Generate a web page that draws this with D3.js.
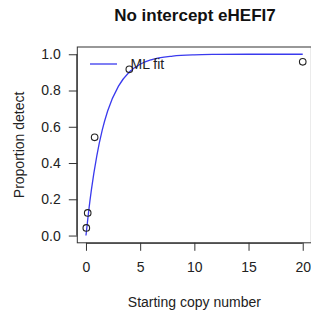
<!DOCTYPE html>
<html>
<head>
<meta charset="utf-8">
<script src="https://cdn.jsdelivr.net/npm/d3@7"></script>
<style>
  body { margin: 0; background: #fff; }
  text { font-family: "Liberation Sans", Arial, sans-serif; }
</style>
</head>
<body>
<div id="chart"></div>
<script>
// Observed proportions by starting copy number
var copyNumber = [0.032, 0.16, 0.8, 4, 20];
var propDetect = [0.042, 0.125, 0.542, 0.917, 0.958];

// ML fit curve
var fitX = [0, 0.25, 0.5, 1, 1.5, 2, 3, 4, 5, 6, 8, 10, 12, 15, 20];
var fitY = [0, 0.135, 0.252, 0.44, 0.581, 0.687, 0.824, 0.902, 0.945, 0.969, 0.99, 0.997, 0.999, 1.0, 1.0];

var xTicks = [0, 5, 10, 15, 20];
var yTicks = [0, 0.2, 0.4, 0.6, 0.8, 1.0];

var width = 311, height = 316;
var margin = { top: 47, right: -0.4, bottom: 73.2, left: 77.3 };

var svg = d3.select("#chart")
    .append("svg")
    .attr("width", width)
    .attr("height", height);

// R style 4% padding on each side
var x = d3.scaleLinear()
    .domain([-0.8, 20.8])
    .range([margin.left, width - margin.right]);
var y = d3.scaleLinear()
    .domain([-0.04, 1.04])
    .range([height - margin.bottom, margin.top]);

// Plot box
svg.append("rect")
    .attr("x", margin.left)
    .attr("y", margin.top)
    .attr("width", width - margin.right - margin.left)
    .attr("height", height - margin.bottom - margin.top)
    .attr("fill", "none")
    .attr("stroke", "#333")
    .attr("stroke-width", 1);

// Y axis
var yAxis = svg.append("g")
    .attr("transform", "translate(" + margin.left + ",0)")
    .call(d3.axisLeft(y).tickValues(yTicks).tickFormat(d3.format(".1f")).tickSizeOuter(0).tickSize(8.5).tickPadding(8));
yAxis.select(".domain")
    .attr("d", "M-0.5," + y(0) + "V" + y(1));
yAxis.selectAll("line").attr("stroke", "#333");
yAxis.selectAll("text")
    .style("font-size", "14px")
    .attr("fill", "#222");
yAxis.select(".domain").attr("stroke", "#333");

// X axis
var xAxis = svg.append("g")
    .attr("transform", "translate(0," + (height - margin.bottom) + ")")
    .call(d3.axisBottom(x).tickValues(xTicks).tickSizeOuter(0).tickSize(8).tickPadding(11));
xAxis.select(".domain")
    .attr("d", "M" + x(0) + ",0.5H" + x(20));
xAxis.selectAll("line").attr("stroke", "#333");
xAxis.select(".domain").attr("stroke", "#333");
xAxis.selectAll("text")
    .style("font-size", "14px")
    .attr("fill", "#222");

// Fit line
var fit = fitX.map(function (d, i) { return { x: d, y: fitY[i] }; });
svg.append("path")
    .datum(fit)
    .attr("fill", "none")
    .attr("stroke", "#3a3aee")
    .attr("stroke-width", 1.3)
    .attr("d", d3.line()
      .curve(d3.curveMonotoneX)
      .x(function (d) { return x(d.x); })
      .y(function (d) { return y(d.y); })
    );

// Points
svg.selectAll(".pt")
    .data(copyNumber)
    .enter()
    .append("circle")
    .attr("cx", function (d) { return x(d); })
    .attr("cy", function (d, i) { return y(propDetect[i]); })
    .attr("r", 3.3)
    .attr("fill", "none")
    .attr("stroke", "#222")
    .attr("stroke-width", 1.1);

// Legend
svg.append("line")
    .attr("x1", 90).attr("x2", 117)
    .attr("y1", 64).attr("y2", 64)
    .attr("stroke", "#3a3aee")
    .attr("stroke-width", 1.3);
svg.append("text")
    .attr("x", 130.5)
    .attr("y", 69)
    .style("font-size", "14px")
    .attr("fill", "#222")
    .text("ML fit");

// Title
svg.append("text")
    .attr("x", 195)
    .attr("y", 21)
    .attr("text-anchor", "middle")
    .style("font-size", "17px")
    .style("font-weight", "bold")
    .attr("fill", "#111")
    .text("No intercept eHEFI7");

// Axis titles
svg.append("text")
    .attr("x", (margin.left + width - margin.right) / 2)
    .attr("y", 306.5)
    .attr("text-anchor", "middle")
    .style("font-size", "14px")
    .attr("fill", "#222")
    .text("Starting copy number");

svg.append("text")
    .attr("transform", "rotate(-90)")
    .attr("x", -(margin.top + height - margin.bottom) / 2)
    .attr("y", 23.5)
    .attr("text-anchor", "middle")
    .style("font-size", "14px")
    .attr("fill", "#222")
    .text("Proportion detect");
</script>
</body>
</html>
